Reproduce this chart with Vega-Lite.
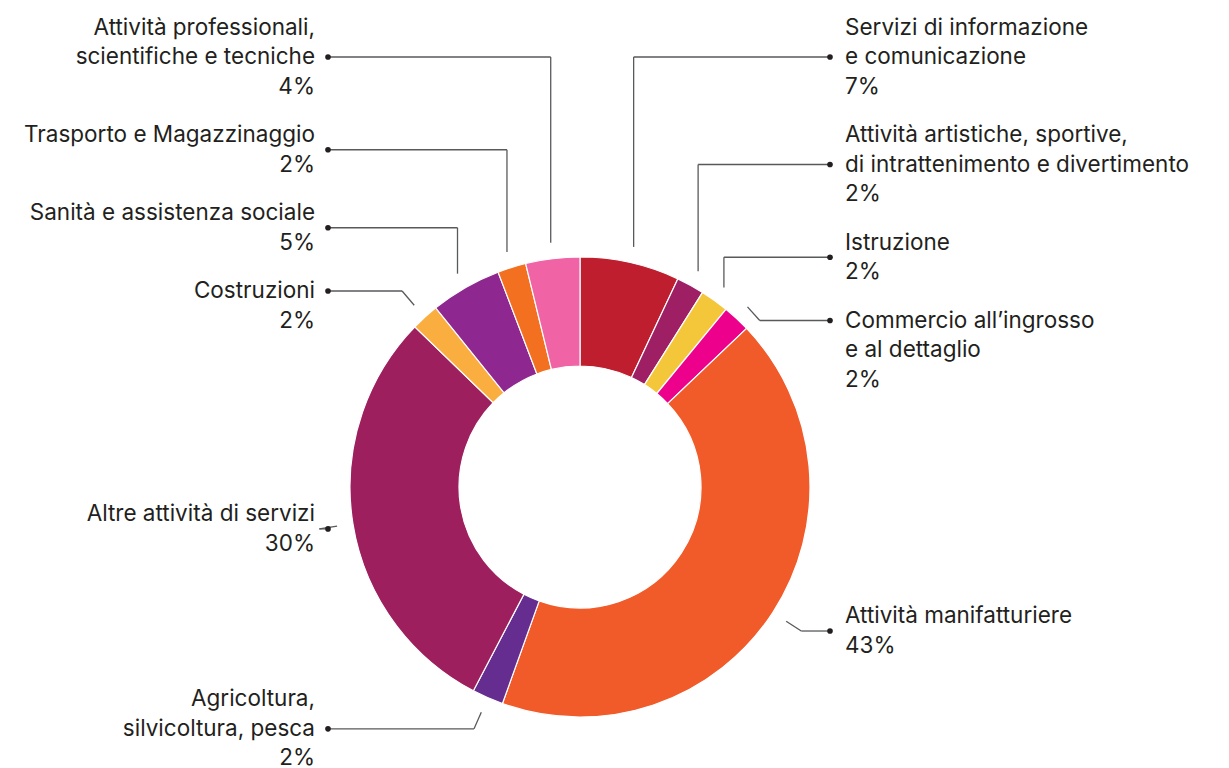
{
  "$schema": "https://vega.github.io/schema/vega-lite/v6.json",
  "autosize": {"type": "none"},
  "width": 1160,
  "height": 562,
  "padding": {"left": 0, "top": 206, "right": 69, "bottom": 0},
  "background": "white",
  "view": {"stroke": null},
  "config": {"font": "Inter"},
  "data": {
    "values": [
      {"idx": 0, "label": "Servizi di informazione\ne comunicazione", "value": 7.0},
      {"idx": 1, "label": "Attività artistiche, sportive,\ndi intrattenimento e divertimento", "value": 1.95},
      {"idx": 2, "label": "Istruzione", "value": 2.0},
      {"idx": 3, "label": "Commercio all’ingrosso\ne al dettaglio", "value": 1.95},
      {"idx": 4, "label": "Attività manifatturiere", "value": 42.6},
      {"idx": 5, "label": "Agricoltura,\nsilvicoltura, pesca", "value": 2.2},
      {"idx": 6, "label": "Altre attività di servizi", "value": 29.6},
      {"idx": 7, "label": "Costruzioni", "value": 1.95},
      {"idx": 8, "label": "Sanità e assistenza sociale", "value": 5.0},
      {"idx": 9, "label": "Trasporto e Magazzinaggio", "value": 2.0},
      {"idx": 10, "label": "Attività professionali,\nscientifiche e tecniche", "value": 3.8}
    ]
  },
  "transform": [
    {"window": [{"op": "sum", "field": "value", "as": "cum"}], "sort": [{"field": "idx"}], "frame": [null, 0]},
    {"joinaggregate": [{"op": "sum", "field": "value", "as": "total"}]},
    {"calculate": "(datum.cum - datum.value / 2) / datum.total * 2 * PI", "as": "ang"},
    {"calculate": "sin(datum.ang) >= 0 ? 'R' : 'L'", "as": "side"},
    {"calculate": "datum.side == 'R' ? datum.ang : 2 * PI - datum.ang", "as": "k"},
    {"calculate": "length(split(datum.label, '\\n')) + 1", "as": "nl"},
    {"calculate": "datum.label + '\\n' + format(datum.value, '.0f') + '%'", "as": "txt"},
    {"calculate": "sin(datum.ang) * 246", "as": "ax"},
    {"calculate": "-cos(datum.ang) * 246", "as": "ay"},
    {"calculate": "sin(datum.ang) * 264", "as": "ex"},
    {"calculate": "-cos(datum.ang) * 264", "as": "yn"},
    {"window": [{"op": "lag", "field": "nl", "as": "prevNl"}], "groupby": ["side"], "sort": [{"field": "k"}]},
    {"calculate": "datum.prevNl == null ? 0 : (datum.prevNl + datum.nl) / 2 * 29.5 + 19", "as": "gc"},
    {"window": [{"op": "sum", "field": "gc", "as": "G"}], "groupby": ["side"], "sort": [{"field": "k"}], "frame": [null, 0]},
    {"calculate": "datum.yn - datum.G", "as": "z"},
    {"window": [{"op": "min", "field": "z", "as": "zmin"}], "groupby": ["side"], "sort": [{"field": "k"}], "frame": [0, null]},
    {"calculate": "datum.G + max(-430, datum.zmin)", "as": "yp"},
    {"calculate": "datum.yp - (datum.nl - 1) * 29.5 / 2", "as": "ty"},
    {"calculate": "datum.yp > datum.yn + 1 ? datum.ty : datum.yp", "as": "dy"},
    {"calculate": "datum.dy < datum.yn - 3 ? datum.ax : datum.ex", "as": "ex2"},
    {"calculate": "datum.side == 'R' ? 250 : -252", "as": "dotx"},
    {"calculate": "datum.side == 'R' ? 265 : -265", "as": "tx"}
  ],
  "layer": [
    {
      "mark": {"type": "arc", "outerRadius": 230, "innerRadius": 121, "stroke": "white", "strokeWidth": 1.2},
      "encoding": {
        "theta": {"field": "value", "type": "quantitative", "stack": true},
        "order": {"field": "idx", "type": "quantitative"},
        "color": {
          "field": "label",
          "type": "nominal",
          "legend": null,
          "scale": {
            "domain": [
              "Servizi di informazione\ne comunicazione",
              "Attività artistiche, sportive,\ndi intrattenimento e divertimento",
              "Istruzione",
              "Commercio all’ingrosso\ne al dettaglio",
              "Attività manifatturiere",
              "Agricoltura,\nsilvicoltura, pesca",
              "Altre attività di servizi",
              "Costruzioni",
              "Sanità e assistenza sociale",
              "Trasporto e Magazzinaggio",
              "Attività professionali,\nscientifiche e tecniche"
            ],
            "range": ["#BE1E2D", "#9E1F63", "#F4C73A", "#EC008C", "#F15A29", "#662D91", "#9E1F5E", "#FBAE40", "#8E278F", "#F37021", "#F064A5"]
          }
        }
      }
    },
    {
      "mark": {"type": "rule", "color": "#58595B", "strokeWidth": 1.3},
      "encoding": {
        "x": {"field": "ax", "type": "quantitative", "axis": null, "scale": {"domain": [-580, 580], "nice": false, "zero": false}},
        "y": {"field": "ay", "type": "quantitative", "axis": null, "scale": {"domain": [-281, 281], "nice": false, "zero": false, "reverse": true}},
        "x2": {"field": "ex2"},
        "y2": {"field": "dy"}
      }
    },
    {
      "mark": {"type": "rule", "color": "#58595B", "strokeWidth": 1.3},
      "encoding": {
        "x": {"field": "ex2", "type": "quantitative", "axis": null},
        "y": {"field": "dy", "type": "quantitative", "axis": null},
        "x2": {"field": "dotx"},
        "y2": {"field": "dy"}
      }
    },
    {
      "mark": {"type": "point", "filled": true, "size": 32, "color": "#231F20", "opacity": 1},
      "encoding": {
        "x": {"field": "dotx", "type": "quantitative", "axis": null},
        "y": {"field": "dy", "type": "quantitative", "axis": null}
      }
    },
    {
      "transform": [{"filter": "datum.side == 'R'"}],
      "mark": {"type": "text", "align": "left", "baseline": "middle", "lineBreak": "\n", "fontSize": 22.5, "lineHeight": 29.5, "color": "#231F20", "font": "Inter"},
      "encoding": {
        "x": {"field": "tx", "type": "quantitative", "axis": null},
        "y": {"field": "ty", "type": "quantitative", "axis": null},
        "text": {"field": "txt"}
      }
    },
    {
      "transform": [{"filter": "datum.side == 'L'"}],
      "mark": {"type": "text", "align": "right", "baseline": "middle", "lineBreak": "\n", "fontSize": 22.5, "lineHeight": 29.5, "color": "#231F20", "font": "Inter"},
      "encoding": {
        "x": {"field": "tx", "type": "quantitative", "axis": null},
        "y": {"field": "ty", "type": "quantitative", "axis": null},
        "text": {"field": "txt"}
      }
    }
  ]
}
